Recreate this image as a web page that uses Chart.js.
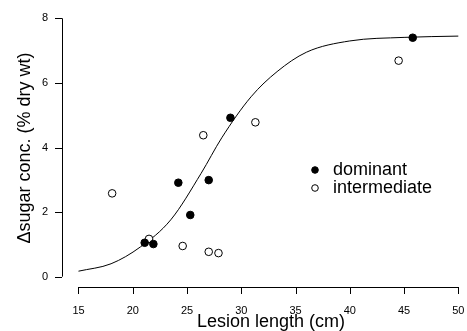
<!DOCTYPE html>
<html>
<head>
<meta charset="utf-8">
<script src="https://cdn.jsdelivr.net/npm/chart.js@4.4.0/dist/chart.umd.min.js"></script>
<style>
  html, body { margin: 0; padding: 0; background: #fff; }
  #plot { display: block; }
</style>
</head>
<body>
<canvas id="plot" width="467" height="331"></canvas>
<script>
const FONT = "'Liberation Sans', Arial, Helvetica, sans-serif";

// lesion length (cm) vs change in sugar concentration
const dominantX = [21.1, 21.9, 24.2, 25.3, 27.0, 29.0, 45.8];
const dominantY = [1.05, 1.01, 2.91, 1.91, 2.99, 4.92, 7.40];
const intermediateX = [18.1, 21.5, 24.6, 26.5, 27.0, 27.9, 31.3, 44.5];
const intermediateY = [2.58, 1.17, 0.95, 4.38, 0.77, 0.73, 4.78, 6.69];

// fitted response curve
const curveX = [15.0, 18.0, 20.7, 23.5, 26.3, 28.2, 30.9, 33.3, 36.0, 40.0, 45.0, 50.0];
const curveY = [0.17, 0.40, 0.92, 1.76, 3.20, 4.30, 5.57, 6.35, 6.95, 7.30, 7.41, 7.45];

const xTicks = [15, 20, 25, 30, 35, 40, 45, 50];
const yTicks = [0, 2, 4, 6, 8];
const xTitle = 'Lesion length (cm)';
const yTitle = '\u0394sugar conc. (% dry wt)';

const pts = (xs, ys) => xs.map((x, i) => ({ x, y: ys[i] }));

// base-graphics style axes: detached lines spanning only the tick range
const rAxes = {
  id: 'rAxes',
  afterDraw(chart) {
    const { ctx, scales: { x, y } } = chart;
    const axisY = 287, axisX = 62, tick = 7;
    ctx.save();
    ctx.strokeStyle = '#000';
    ctx.fillStyle = '#000';
    ctx.lineWidth = 1;

    // x axis
    const x0 = x.getPixelForValue(xTicks[0]), x1 = x.getPixelForValue(xTicks[xTicks.length - 1]);
    ctx.beginPath();
    ctx.moveTo(x0, axisY + 0.5);
    ctx.lineTo(x1, axisY + 0.5);
    xTicks.forEach(v => {
      const px = Math.round(x.getPixelForValue(v)) + 0.5;
      ctx.moveTo(px, axisY);
      ctx.lineTo(px, axisY + tick);
    });
    ctx.stroke();
    ctx.font = `11px ${FONT}`;
    ctx.textAlign = 'center';
    ctx.textBaseline = 'middle';
    xTicks.forEach(v => ctx.fillText(String(v), x.getPixelForValue(v), 311));

    // y axis
    const y0 = y.getPixelForValue(yTicks[0]), y1 = y.getPixelForValue(yTicks[yTicks.length - 1]);
    ctx.beginPath();
    ctx.moveTo(axisX + 0.5, y0);
    ctx.lineTo(axisX + 0.5, y1);
    yTicks.forEach(v => {
      const py = Math.round(y.getPixelForValue(v)) + 0.5;
      ctx.moveTo(axisX, py);
      ctx.lineTo(axisX - tick, py);
    });
    ctx.stroke();
    ctx.textAlign = 'right';
    yTicks.forEach(v => ctx.fillText(String(v), 48, y.getPixelForValue(v)));

    // titles
    ctx.font = `18px ${FONT}`;
    ctx.textAlign = 'center';
    ctx.fillText(xTitle, 271, 322);
    ctx.save();
    ctx.translate(25, 148);
    ctx.rotate(-Math.PI / 2);
    ctx.fillText(yTitle, 0, 0);
    ctx.restore();

    // legend
    ctx.font = `18px ${FONT}`;
    ctx.textAlign = 'left';
    const items = [
      { label: chart.data.datasets[1].label, fill: '#000', y: 170 },
      { label: chart.data.datasets[2].label, fill: '#fff', y: 188 },
    ];
    items.forEach(it => {
      ctx.beginPath();
      ctx.arc(315, it.y, 3.3, 0, Math.PI * 2);
      ctx.fillStyle = it.fill;
      ctx.fill();
      ctx.stroke();
      ctx.fillStyle = '#000';
      ctx.fillText(it.label, 333, it.y);
    });
    ctx.restore();
  },
};

new Chart(document.getElementById('plot'), {
  data: {
    datasets: [
      {
        type: 'line',
        label: 'fit',
        data: pts(curveX, curveY),
        borderColor: '#000',
        borderWidth: 1,
        pointRadius: 0,
        fill: false,
        cubicInterpolationMode: 'monotone',
        order: 3,
      },
      {
        type: 'scatter',
        label: 'dominant',
        data: pts(dominantX, dominantY),
        pointRadius: 3.8,
        backgroundColor: '#000',
        borderColor: '#000',
        borderWidth: 1,
        order: 1,
      },
      {
        type: 'scatter',
        label: 'intermediate',
        data: pts(intermediateX, intermediateY),
        pointRadius: 3.8,
        backgroundColor: '#fff',
        borderColor: '#000',
        borderWidth: 1,
        order: 2,
      },
    ],
  },
  options: {
    responsive: false,
    animation: false,
    devicePixelRatio: 1,
    layout: { padding: { left: 62, right: 0, top: 8, bottom: 44 } },
    plugins: { legend: { display: false }, tooltip: { enabled: false } },
    scales: {
      x: { type: 'linear', display: false, min: 13.48, max: 50.34 },
      y: { type: 'linear', display: false, min: -0.32, max: 8.32 },
    },
  },
  plugins: [rAxes],
});
</script>
</body>
</html>
